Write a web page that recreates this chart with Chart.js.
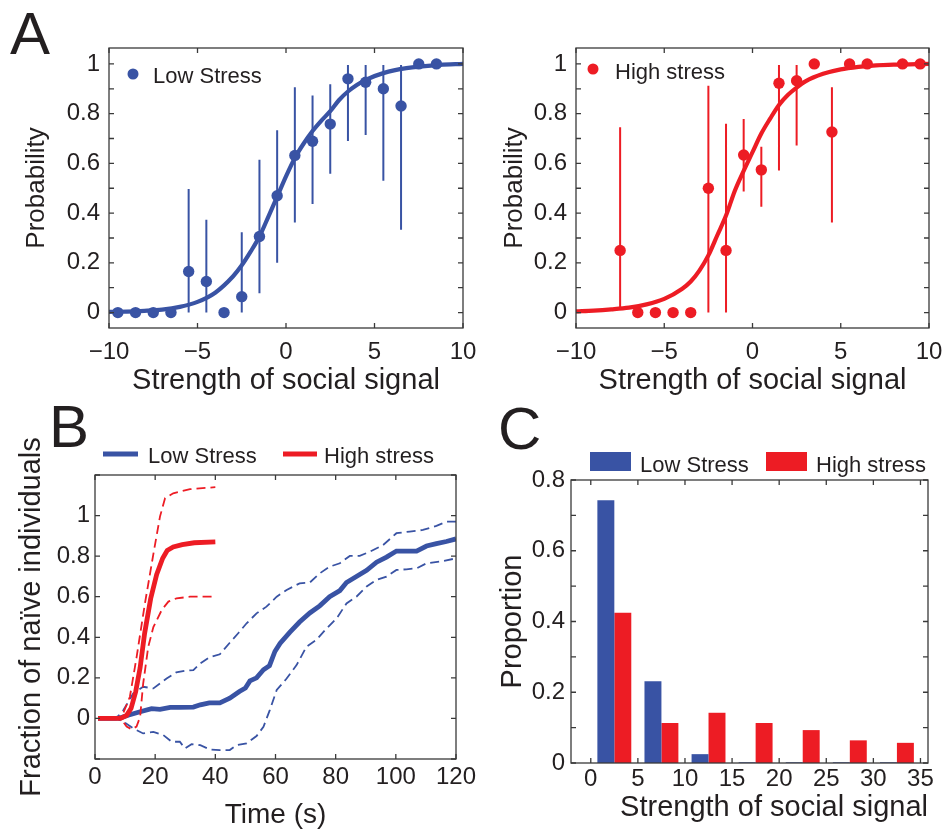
<!DOCTYPE html>
<html>
<head>
<meta charset="utf-8">
<script src="https://cdn.jsdelivr.net/npm/chart.js@4.4.1/dist/chart.umd.min.js"></script>
<style>
html,body{margin:0;padding:0;background:#fff;width:942px;height:832px;overflow:hidden;position:relative;}
canvas{position:absolute;}
.plabel{position:absolute;font-family:'Liberation Sans',Arial,Helvetica,sans-serif;font-size:60px;line-height:60px;color:#231f20;}
</style>
</head>
<body>
<canvas id="chartA1" width="492" height="410" style="left:0px;top:0px"></canvas>
<canvas id="chartA2" width="471" height="410" style="left:471px;top:0px"></canvas>
<canvas id="chartB" width="492" height="432" style="left:0px;top:400px"></canvas>
<canvas id="chartC" width="471" height="432" style="left:471px;top:400px"></canvas>
<div class="plabel" style="left:10px;top:4px">A</div>
<div class="plabel" style="left:49px;top:397px">B</div>
<div class="plabel" style="left:498px;top:399px">C</div>
<script>
// ---------------- DATA ----------------
const seriesNames = ['Low Stress', 'High stress'];

// Panel A (left): Low stress probability of response vs signal strength
const signalBinsLow = [-9.5,-8.5,-7.5,-6.5,-5.5,-4.5,-3.5,-2.5,-1.5,-0.5,0.5,1.5,2.5,3.5,4.5,5.5,6.5,7.5,8.5];
const probLow       = [0,0,0,0,0.165,0.125,0,0.064,0.306,0.47,0.632,0.689,0.758,0.94,0.926,0.9,0.831,1,1];
const probLowErrLo  = [0,0,0,0,0,0,0,0,0.078,0.2,0.362,0.437,0.558,0.69,0.714,0.53,0.333,1,1];
const probLowErrHi  = [0,0,0,0,0.497,0.373,0,0.323,0.615,0.733,0.906,0.873,0.918,0.996,0.996,0.996,0.996,1,1];
const fitSignalLow  = [-10,-9,-8,-7,-6,-5,-4,-3,-2.5,-2,-1.5,-1,-0.5,0,0.5,1,1.5,2,2.5,3,3.5,4,4.5,5.5,6.8,8.7,10];
const fitProbLow    = [0.003,0.004,0.007,0.012,0.023,0.043,0.08,0.145,0.19,0.245,0.306,0.385,0.466,0.548,0.622,0.68,0.73,0.772,0.81,0.855,0.889,0.915,0.936,0.963,0.983,0.996,1.0];

// Panel A (right): High stress
const signalBinsHigh = [-7.5,-6.5,-5.5,-4.5,-3.5,-2.5,-1.5,-0.5,0.5,1.5,2.5,3.5,4.5,5.5,6.5,8.5,9.5];
const probHigh       = [0.25,0,0,0,0,0.5,0.25,0.634,0.574,0.922,0.932,1,0.726,1,1,1,1];
const probHighErrLo  = [0.01,0,0,0,0,0,0,0.487,0.426,0.571,0.672,1,0.362,1,1,1,1];
const probHighErrHi  = [0.745,0,0,0,0,0.912,0.759,0.778,0.667,0.996,0.996,1,0.906,1,1,1,1];
const fitSignalHigh  = [-10,-9,-8,-7,-6,-5,-4,-3.5,-3,-2.5,-2,-1.5,-1,-0.5,0,0.5,1,1.5,2,2.5,3,4,5,6,7,8,10];
const fitProbHigh    = [0.005,0.008,0.013,0.02,0.033,0.055,0.095,0.125,0.17,0.23,0.31,0.39,0.49,0.57,0.645,0.72,0.78,0.835,0.875,0.905,0.93,0.96,0.978,0.988,0.994,0.997,1.0];

// Panel B: fraction of naive individuals over time (mean and dashed bounds)
const timeLowMean = [1,7,8.5,11,15,18.8,21.6,25,28,32.7,35,38,41.5,44.8,48,50,51.5,53.7,56,58,59.8,61.5,64.8,68,71.4,74.7,78,81.4,83.6,86.9,90.3,93.6,96.9,100.2,103.5,106.9,110.2,113.5,116.8,120];
const fracLowMean = [0,0,0.003,0.016,0.033,0.048,0.045,0.054,0.054,0.056,0.067,0.077,0.077,0.1,0.133,0.15,0.185,0.2,0.24,0.26,0.33,0.37,0.425,0.475,0.52,0.555,0.6,0.63,0.67,0.7,0.73,0.77,0.795,0.825,0.825,0.825,0.85,0.862,0.872,0.885];
const timeLowUpper = [1,7,9.4,12.7,16,19.4,23.8,27,29.9,32.7,35,38,41.5,44.8,47.6,50.4,53.7,57,60.4,63.7,68,71.4,74.7,78,81.4,84.7,88,91.4,95.8,100.2,104.6,109,113.5,116.8,120];
const fracLowUpper = [0,0,0.04,0.123,0.156,0.148,0.197,0.227,0.235,0.238,0.271,0.301,0.316,0.373,0.42,0.469,0.518,0.551,0.6,0.633,0.666,0.67,0.715,0.748,0.765,0.801,0.801,0.822,0.855,0.913,0.921,0.929,0.949,0.97,0.97];
const timeLowLower = [1,7,9.4,12.7,16,19.4,22.7,25.5,28.2,29.9,32.1,35,38.2,41.5,44.8,47,50.4,53.7,56,58.1,60.4,63.7,67,70.3,73.6,77,80.3,83.6,86.9,90.3,93.6,96.9,100.2,103.5,106.9,110.2,114.6,120];
const fracLowLower = [0,0,-0.016,-0.049,-0.074,-0.066,-0.082,-0.115,-0.115,-0.148,-0.127,-0.132,-0.153,-0.156,-0.156,-0.132,-0.123,-0.087,-0.041,0.041,0.14,0.197,0.263,0.354,0.387,0.444,0.493,0.567,0.6,0.65,0.683,0.699,0.732,0.735,0.74,0.765,0.773,0.789];
const timeHighMean = [1,8.5,10.5,12,13.5,15,16.5,18.5,20.5,22.5,24,26,29,33,40];
const fracHighMean = [0,0,0.015,0.05,0.13,0.25,0.42,0.59,0.71,0.79,0.828,0.845,0.857,0.866,0.87];
const timeHighUpper = [1,7.5,9.5,11.6,13.8,16.6,19.4,21.6,23.3,26,31.6,40];
const fracHighUpper = [0,0,0.03,0.107,0.30,0.567,0.81,0.995,1.086,1.11,1.13,1.14];
const timeHighLower = [1,8.5,10.5,12.2,13.8,15,16,17.7,19.4,22.2,24.4,27.1,31.6,40];
const fracHighLower = [0,0,-0.04,-0.054,-0.04,0.008,0.17,0.353,0.45,0.535,0.576,0.592,0.6,0.6];

// Panel C: distribution of social signal strength
const signalBinCenters = [2.5,7.5,12.5,17.5,22.5,27.5,32.5];
const proportionLow  = [0.743,0.231,0.025,0.002,0.002,0.002,0.002];
const proportionHigh = [0.425,0.113,0.142,0.113,0.093,0.064,0.057];

// ---------------- STYLE ----------------
const FONT = "'Liberation Sans', Arial, Helvetica, sans-serif";
const LOW_COLOR = '#3953a4';
const HIGH_COLOR = '#ed1c24';
const TEXT_COLOR = '#231f20';
const AXIS_COLOR = '#3a3a3a';

Chart.defaults.font.family = FONT;
Chart.defaults.color = TEXT_COLOR;
Chart.defaults.animation = false;
Chart.defaults.events = [];
Chart.defaults.plugins.legend.display = false;
Chart.defaults.plugins.tooltip.enabled = false;

// ---------------- HELPERS ----------------
function xy(xs, ys) { return xs.map((x, i) => ({x: x, y: ys[i]})); }
function errSegments(xs, lo, hi) {
  const out = [];
  xs.forEach((x, i) => {
    if (hi[i] - lo[i] > 0.001) { out.push({x: x, y: lo[i]}, {x: x, y: hi[i]}, {x: x, y: null}); }
  });
  return out;
}
function fmtNum(v) {
  const r = Math.round(v * 10) / 10;
  if (r === 0) return '0';
  return r < 0 ? '\u2212' + Math.abs(r) : String(r);
}
function evenTenths(v) { return Math.round(v * 10) % 2 === 0 ? fmtNum(v) : ''; }
function fitY(w) { return s => { s.width = w; s.paddingTop = 0; s.paddingBottom = 0; }; }
function fitX(h) { return s => { s.height = h; s.paddingLeft = 0; s.paddingRight = 0; }; }

// Box + inward ticks on all four sides (MATLAB style)
const frameTicks = {
  id: 'frameTicks',
  afterDatasetsDraw(chart, args, o) {
    const {ctx, chartArea: a} = chart;
    const xs = chart.scales.x, ys = chart.scales.y;
    const L = 5;
    ctx.save();
    ctx.strokeStyle = AXIS_COLOR;
    ctx.lineWidth = 1.3;
    ctx.beginPath();
    xs.ticks.forEach(t => {
      const p = xs.getPixelForValue(t.value);
      if (p < a.left - 0.5 || p > a.right + 0.5) return;
      ctx.moveTo(p, a.bottom); ctx.lineTo(p, a.bottom - L);
      ctx.moveTo(p, a.top); ctx.lineTo(p, a.top + L);
    });
    ys.ticks.forEach(t => {
      const p = ys.getPixelForValue(t.value);
      if (p < a.top - 0.5 || p > a.bottom + 0.5) return;
      ctx.moveTo(a.left, p); ctx.lineTo(a.left + L, p);
      ctx.moveTo(a.right, p); ctx.lineTo(a.right - L, p);
    });
    ctx.stroke();
    ctx.strokeRect(a.left, a.top, a.right - a.left, a.bottom - a.top);
    ctx.restore();
  }
};

// Legend markers and labels at fixed places
const panelLegend = {
  id: 'panelLegend',
  afterDraw(chart, args, o) {
    if (!o || !o.items) return;
    const ctx = chart.ctx;
    ctx.save();
    ctx.font = o.size + 'px ' + FONT;
    ctx.textBaseline = 'alphabetic';
    ctx.textAlign = 'left';
    o.items.forEach(it => {
      ctx.fillStyle = it.color; ctx.strokeStyle = it.color;
      if (it.marker === 'dot') {
        ctx.beginPath(); ctx.arc(it.mx, it.my, it.r, 0, Math.PI * 2); ctx.fill();
      } else if (it.marker === 'line') {
        ctx.lineWidth = it.lw; ctx.beginPath(); ctx.moveTo(it.mx, it.my); ctx.lineTo(it.mx + it.mw, it.my); ctx.stroke();
      } else if (it.marker === 'rect') {
        ctx.fillRect(it.mx, it.my, it.mw, it.mh);
      }
      ctx.fillStyle = TEXT_COLOR;
      ctx.fillText(it.text, it.tx, it.ty);
    });
    ctx.restore();
  }
};

// Free text (long rotated axis title)
const extraText = {
  id: 'extraText',
  afterDraw(chart, args, o) {
    if (!o || !o.items) return;
    const ctx = chart.ctx;
    o.items.forEach(it => {
      ctx.save();
      ctx.translate(it.x, it.y);
      ctx.rotate(it.rotation * Math.PI / 180);
      ctx.font = it.size + 'px ' + FONT;
      ctx.fillStyle = TEXT_COLOR;
      ctx.textAlign = 'center';
      ctx.textBaseline = 'middle';
      ctx.fillText(it.text, 0, 0);
      ctx.restore();
    });
  }
};
Chart.register(frameTicks, panelLegend, extraText);

// ---------------- PANEL A ----------------
function panelA(id, xs, ys, lo, hi, fx, fy, color, name, cfg) {
  return new Chart(document.getElementById(id), {
    type: 'scatter',
    data: {
      datasets: [
        {label: name, data: xy(xs, ys), backgroundColor: color, borderColor: color, pointRadius: 5.7, pointBorderWidth: 0, showLine: false},
        {label: name + ' error', data: errSegments(xs, lo, hi), showLine: true, borderColor: color, borderWidth: 2, pointRadius: 0, spanGaps: false},
        {label: name + ' fit', data: xy(fx, fy), showLine: true, borderColor: color, borderWidth: 4.2, pointRadius: 0, cubicInterpolationMode: 'monotone'}
      ]
    },
    options: {
      responsive: false,
      layout: {padding: {top: 48, right: cfg.right, left: 0, bottom: 0}},
      scales: {
        x: {
          type: 'linear', min: -10, max: 10,
          ticks: {stepSize: 5, autoSkip: false, maxRotation: 0, includeBounds: false, padding: 10, font: {size: 24}, callback: v => fmtNum(v)},
          grid: {display: false, drawTicks: false}, border: {display: false},
          title: {display: true, text: 'Strength of social signal', font: {size: 29}, padding: {top: 0, bottom: 12}},
          afterFit: fitX(82)
        },
        y: {
          type: 'linear', min: -0.062, max: 1.064,
          ticks: {stepSize: 0.1, autoSkip: false, includeBounds: false, padding: 9, font: {size: 24}, callback: v => evenTenths(v)},
          grid: {display: false, drawTicks: false}, border: {display: false},
          title: {display: true, text: 'Probability', font: {size: 26}, padding: {top: cfg.ytp, bottom: 0}},
          afterFit: fitY(cfg.yw)
        }
      },
      plugins: {
        panelLegend: {size: 22, items: [{marker: 'dot', color: color, mx: cfg.lx, my: cfg.ly, r: 5.5, text: name, tx: cfg.tx, ty: cfg.ty}]}
      }
    }
  });
}
panelA('chartA1', signalBinsLow, probLow, probLowErrLo, probLowErrHi, fitSignalLow, fitProbLow, LOW_COLOR, seriesNames[0],
  {right: 29, yw: 109, ytp: 21, lx: 133, ly: 74, tx: 153, ty: 82.5});
panelA('chartA2', signalBinsHigh, probHigh, probHighErrLo, probHighErrHi, fitSignalHigh, fitProbHigh, HIGH_COLOR, seriesNames[1],
  {right: 13, yw: 105, ytp: 28, lx: 122, ly: 69, tx: 144, ty: 79});

// ---------------- PANEL B ----------------
function lineDs(label, t, v, color, width, dash) {
  return {label: label, data: xy(t, v), showLine: true, borderColor: color, backgroundColor: color, borderWidth: width, borderDash: dash || [], pointRadius: 0, tension: 0};
}
new Chart(document.getElementById('chartB'), {
  type: 'scatter',
  data: {
    datasets: [
      lineDs(seriesNames[1], timeHighMean, fracHighMean, HIGH_COLOR, 4.8),
      lineDs(seriesNames[1] + ' upper', timeHighUpper, fracHighUpper, HIGH_COLOR, 1.8, [9, 5]),
      lineDs(seriesNames[1] + ' lower', timeHighLower, fracHighLower, HIGH_COLOR, 1.8, [9, 5]),
      lineDs(seriesNames[0], timeLowMean, fracLowMean, LOW_COLOR, 4.8),
      lineDs(seriesNames[0] + ' upper', timeLowUpper, fracLowUpper, LOW_COLOR, 1.8, [9, 5]),
      lineDs(seriesNames[0] + ' lower', timeLowLower, fracLowLower, LOW_COLOR, 1.8, [9, 5])
    ]
  },
  options: {
    responsive: false,
    layout: {padding: {top: 75, right: 36, left: 0, bottom: 0}},
    scales: {
      x: {
        type: 'linear', min: 0, max: 120,
        ticks: {stepSize: 20, autoSkip: false, maxRotation: 0, padding: 4, font: {size: 24}, callback: v => String(v)},
        grid: {display: false, drawTicks: false}, border: {display: false},
        title: {display: true, text: 'Time (s)', font: {size: 28}, padding: {top: 0, bottom: 0}},
        afterFit: fitX(73)
      },
      y: {
        type: 'linear', min: -0.2, max: 1.2,
        ticks: {stepSize: 0.2, autoSkip: false, padding: 5, font: {size: 24}, callback: v => (v < -0.05 || v > 1.05) ? '' : fmtNum(v)},
        grid: {display: false, drawTicks: false}, border: {display: false},
        title: {display: false},
        afterFit: fitY(95)
      }
    },
    plugins: {
      extraText: {items: [{text: 'Fraction of na\u00efve individuals', x: 32, y: 217, rotation: -90, size: 29}]},
      panelLegend: {size: 22, items: [
        {marker: 'line', color: LOW_COLOR, mx: 103, my: 54, mw: 35, lw: 5, text: seriesNames[0], tx: 148, ty: 62.5},
        {marker: 'line', color: HIGH_COLOR, mx: 283, my: 54, mw: 34, lw: 5, text: seriesNames[1], tx: 324, ty: 62.5}
      ]}
    }
  }
});

// ---------------- PANEL C ----------------
new Chart(document.getElementById('chartC'), {
  type: 'bar',
  data: {
    datasets: [
      {label: seriesNames[0], data: xy(signalBinCenters, proportionLow), backgroundColor: LOW_COLOR, borderWidth: 0, categoryPercentage: 0.72, barPercentage: 1.0},
      {label: seriesNames[1], data: xy(signalBinCenters, proportionHigh), backgroundColor: HIGH_COLOR, borderWidth: 0, categoryPercentage: 0.72, barPercentage: 1.0}
    ]
  },
  options: {
    responsive: false,
    layout: {padding: {top: 80, right: 14, left: 0, bottom: 0}},
    scales: {
      x: {
        type: 'linear', min: -2.1, max: 35.8, offset: false,
        ticks: {stepSize: 5, autoSkip: false, includeBounds: false, maxRotation: 0, padding: 2, font: {size: 24}, callback: v => String(v)},
        grid: {display: false, drawTicks: false, offset: false}, border: {display: false},
        title: {display: true, text: 'Strength of social signal', align: 'end', font: {size: 29}, padding: {top: 0, bottom: 7}},
        afterFit: fitX(69)
      },
      y: {
        type: 'linear', min: 0, max: 0.8,
        ticks: {stepSize: 0.1, autoSkip: false, includeBounds: false, padding: 6, font: {size: 24}, callback: v => evenTenths(v)},
        grid: {display: false, drawTicks: false}, border: {display: false},
        title: {display: true, text: 'Proportion', font: {size: 29}, padding: {top: 25, bottom: 0}},
        afterFit: fitY(100)
      }
    },
    plugins: {
      panelLegend: {size: 22, items: [
        {marker: 'rect', color: LOW_COLOR, mx: 119, my: 52, mw: 41, mh: 19, text: seriesNames[0], tx: 169, ty: 72},
        {marker: 'rect', color: HIGH_COLOR, mx: 295, my: 52, mw: 41, mh: 19, text: seriesNames[1], tx: 345, ty: 72}
      ]}
    }
  }
});
</script>
</body>
</html>
